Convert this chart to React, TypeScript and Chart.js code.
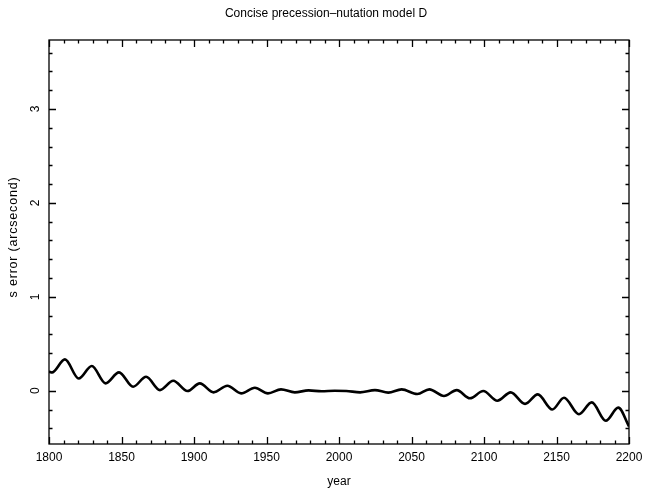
import { useEffect, useRef } from "react";
import { Chart, registerables } from "chart.js";

Chart.register(...registerables);

// Turning points of the s-error curve (year, arcsecond)
const years = [
  1800, 1802, 1811, 1820.5, 1829.5, 1839, 1848.3, 1858, 1867, 1876.5,
  1885.7, 1895.5, 1904, 1913.5, 1923, 1932.5, 1942, 1951, 1960, 1969.5,
  1979, 1988, 1997, 2005, 2014.5, 2024.8, 2034, 2043.2, 2054, 2062.3,
  2072.4, 2081.2, 2090.3, 2099.5, 2109.2, 2118.4, 2128.3, 2137.1, 2147.1, 2155.2,
  2165.5, 2174.3, 2184, 2192.6, 2200,
];
const sError = [
  0.205, 0.195, 0.334, 0.13, 0.263, 0.079, 0.196, 0.043, 0.149, 0.007,
  0.106, -0.003, 0.079, -0.017, 0.053, -0.028, 0.032, -0.028, 0.015, -0.017,
  0.004, -0.006, 0.0, -0.002, -0.017, 0.007, -0.02, 0.015, -0.035, 0.015,
  -0.056, 0.007, -0.08, -0.003, -0.106, -0.017, -0.14, -0.039, -0.2, -0.074,
  -0.25, -0.124, -0.32, -0.18, -0.38,
];

const xTickYears = [1800, 1850, 1900, 1950, 2000, 2050, 2100, 2150, 2200];
const yTickValues = [0, 1, 2, 3];

const X_MIN = 1800;
const X_MAX = 2200;
const Y_MIN = -0.567;
const Y_MAX = 3.735;

const TITLE = "Concise precession\u2013nutation model D";
const X_TITLE = "year";
const Y_TITLE = "s error (arcsecond)";

const W = 657;
const H = 493;
const FONT_FAMILY = '"Liberation Sans", "DejaVu Sans", sans-serif';
const FONT = `12px ${FONT_FAMILY}`;

// Boxed frame with inward major/minor ticks on all four sides, plus labels
const frameAndLabels = {
  id: "frameAndLabels",
  afterDraw(chart: any) {
    const { ctx, chartArea, scales } = chart;
    const { left, right, top, bottom } = chartArea;
    const xs = scales.x;
    const ys = scales.y;
    ctx.save();
    ctx.strokeStyle = "#000";
    ctx.lineWidth = 1.3;
    ctx.strokeRect(left, top, right - left, bottom - top);

    ctx.beginPath();
    for (let v = X_MIN; v <= X_MAX; v += 10) {
      const px = Math.round(xs.getPixelForValue(v)) + 0.5;
      const len = v % 50 === 0 ? 7 : 3.5;
      ctx.moveTo(px, bottom);
      ctx.lineTo(px, bottom - len);
      ctx.moveTo(px, top);
      ctx.lineTo(px, top + len);
    }
    for (let i = Math.ceil(Y_MIN / 0.2); i * 0.2 <= Y_MAX + 1e-9; i++) {
      const v = i * 0.2;
      const py = Math.round(ys.getPixelForValue(v)) + 0.5;
      const len = i % 5 === 0 ? 7 : 3.5;
      ctx.moveTo(left, py);
      ctx.lineTo(left + len, py);
      ctx.moveTo(right, py);
      ctx.lineTo(right - len, py);
    }
    ctx.stroke();

    ctx.fillStyle = "#000";
    ctx.font = FONT;
    ctx.textAlign = "center";
    ctx.textBaseline = "middle";

    xTickYears.forEach((yr) => {
      ctx.fillText(String(yr), xs.getPixelForValue(yr), bottom + 14);
    });
    yTickValues.forEach((v) => {
      ctx.save();
      ctx.translate(36, ys.getPixelForValue(v));
      ctx.rotate(-Math.PI / 2);
      ctx.fillText(String(v), 0, 0);
      ctx.restore();
    });

    const cx = (left + right) / 2;
    ctx.fillText(TITLE, cx - 13, 14);
    ctx.fillText(X_TITLE, cx, 482);

    ctx.save();
    ctx.font = `12.5px ${FONT_FAMILY}`;
    (ctx as any).letterSpacing = "0.8px";
    ctx.translate(14, (top + bottom) / 2 - 5);
    ctx.rotate(-Math.PI / 2);
    ctx.fillText(Y_TITLE, 0, 0);
    ctx.restore();

    ctx.restore();
  },
};

export default function App() {
  const canvasRef = useRef<HTMLCanvasElement | null>(null);

  useEffect(() => {
    const canvas = canvasRef.current;
    if (!canvas) return;
    const chart = new Chart(canvas, {
      type: "line",
      data: {
        datasets: [
          {
            data: years.map((yr, i) => ({ x: yr, y: sError[i] })),
            borderColor: "#000",
            borderWidth: 2.6,
            pointRadius: 0,
            fill: false,
            cubicInterpolationMode: "monotone",
          },
        ],
      },
      options: {
        animation: false,
        responsive: false,
        devicePixelRatio: 1,
        layout: { padding: { left: 49, right: 28, top: 40, bottom: 49 } },
        plugins: {
          legend: { display: false },
          title: { display: false },
          tooltip: { enabled: false },
        },
        scales: {
          x: { type: "linear", min: X_MIN, max: X_MAX, display: false },
          y: { type: "linear", min: Y_MIN, max: Y_MAX, display: false },
        },
      },
      plugins: [frameAndLabels],
    });
    return () => chart.destroy();
  }, []);

  return (
    <div
      style={{
        position: "fixed",
        left: 0,
        top: 0,
        width: W,
        height: H,
        background: "#fff",
      }}
    >
      <canvas ref={canvasRef} width={W} height={H} style={{ width: W, height: H, display: "block" }} />
    </div>
  );
}
